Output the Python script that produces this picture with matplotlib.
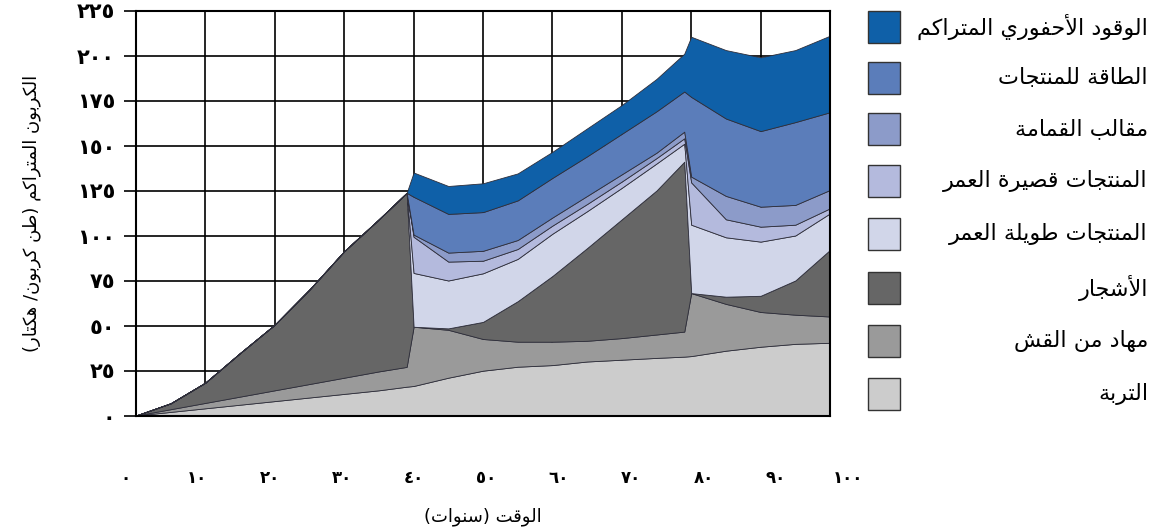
import matplotlib
matplotlib.use("Agg")
import matplotlib.pyplot as plt
from matplotlib.patches import Rectangle


# years since planting (harvests between 39-40 and 79-80)
years = [0, 5, 10, 15, 20, 25, 30, 35, 39, 40, 45, 50, 55, 60, 65, 70, 75, 79, 80, 85, 90, 95, 100]

# carbon per pool (t C / ha), bottom to top of the stack
soil        = [0, 2, 4, 6, 8, 10, 12, 14, 16, 16.4, 21, 24.9, 27.1, 28, 30, 31, 32, 32.7, 33, 36, 38.2, 39.8, 40.4]
mulch       = [0, 1.5, 3, 4.5, 6, 7.5, 9, 10.5, 11, 32.9, 26.6, 17.6, 13.9, 13, 11.5, 12, 13, 13.9, 35, 26, 19.3, 16.2, 14.6]
trees       = [0, 3.3, 11.3, 24.2, 36.5, 52.5, 70.3, 84.5, 96.7, 0, 0.8, 9.5, 22.5, 36.5, 51.5, 66, 80, 94.4, 0, 4, 9, 19, 37]
long_lived  = [0, 0, 0, 0, 0, 0, 0, 0, 0, 29.9, 26.6, 27, 23.5, 23.5, 20.5, 17.5, 15, 10, 38, 33, 30.1, 25, 20.3]
short_lived = [0, 0, 0, 0, 0, 0, 0, 0, 0, 20.1, 10.5, 7, 5.5, 4.5, 4, 3.5, 3, 3, 23.5, 10, 8.3, 6, 2.8]
landfill    = [0, 0, 0, 0, 0, 0, 0, 0, 0, 1.2, 5, 5.5, 5, 4.5, 4.5, 4, 3, 3.7, 3.2, 13, 11.1, 11, 10.2]
energy      = [0, 0, 0, 0, 0, 0, 0, 0, 0, 21, 21.5, 21.5, 22, 22, 22, 22.5, 23, 22.3, 44.3, 43, 42, 46, 43.2]
fossil      = [0, 0, 0, 0, 0, 0, 0, 0, 0, 13.5, 15.5, 16, 15, 14.5, 15.5, 16, 18, 21, 33.4, 38, 41, 40, 42.5]

labels = [
    "التربة",
    "مهاد من القش",
    "الأشجار",
    "المنتجات طويلة العمر",
    "المنتجات قصيرة العمر",
    "مقالب القمامة",
    "الطاقة للمنتجات",
    "الوقود الأحفوري المتراكم",
]
colors = ["#cccccc", "#9a9a9a", "#666666", "#d1d6e9", "#b4badd", "#8c9bc9", "#5b7dba", "#0f60a8"]

x_ticks = [0, 10, 20, 30, 40, 50, 60, 70, 80, 90, 100]
y_ticks = [0, 25, 50, 75, 100, 125, 150, 175, 200, 225]

x_title = "الوقت (سنوات)"
y_title = "الكربون المتراكم (طن كربون/ هكتار)"


# --- minimal Arabic shaping (matplotlib has no RTL / joining support) ---
AR_FORMS = {
    "\u0627": (0xFE8D, 0xFE8E, None, None),
    "\u0623": (0xFE83, 0xFE84, None, None),
    "\u0628": (0xFE8F, 0xFE90, 0xFE91, 0xFE92),
    "\u0629": (0xFE93, 0xFE94, None, None),
    "\u062A": (0xFE95, 0xFE96, 0xFE97, 0xFE98),
    "\u062C": (0xFE9D, 0xFE9E, 0xFE9F, 0xFEA0),
    "\u062D": (0xFEA1, 0xFEA2, 0xFEA3, 0xFEA4),
    "\u062F": (0xFEA9, 0xFEAA, None, None),
    "\u0631": (0xFEAD, 0xFEAE, None, None),
    "\u0633": (0xFEB1, 0xFEB2, 0xFEB3, 0xFEB4),
    "\u0634": (0xFEB5, 0xFEB6, 0xFEB7, 0xFEB8),
    "\u0635": (0xFEB9, 0xFEBA, 0xFEBB, 0xFEBC),
    "\u0637": (0xFEC1, 0xFEC2, 0xFEC3, 0xFEC4),
    "\u0639": (0xFEC9, 0xFECA, 0xFECB, 0xFECC),
    "\u0641": (0xFED1, 0xFED2, 0xFED3, 0xFED4),
    "\u0642": (0xFED5, 0xFED6, 0xFED7, 0xFED8),
    "\u0643": (0xFED9, 0xFEDA, 0xFEDB, 0xFEDC),
    "\u0644": (0xFEDD, 0xFEDE, 0xFEDF, 0xFEE0),
    "\u0645": (0xFEE1, 0xFEE2, 0xFEE3, 0xFEE4),
    "\u0646": (0xFEE5, 0xFEE6, 0xFEE7, 0xFEE8),
    "\u0647": (0xFEE9, 0xFEEA, 0xFEEB, 0xFEEC),
    "\u0648": (0xFEED, 0xFEEE, None, None),
    "\u064A": (0xFEF1, 0xFEF2, 0xFEF3, 0xFEF4),
}
LAM_ALEF = {"\u0627": (0xFEFB, 0xFEFC), "\u0623": (0xFEF7, 0xFEF8)}


def ar(text):
    out = []
    prev_joins = False
    i = 0
    while i < len(text):
        c = text[i]
        nxt = text[i + 1] if i + 1 < len(text) else ""
        if c not in AR_FORMS:
            out.append(c)
            prev_joins = False
            i += 1
            continue
        if c == "\u0644" and nxt in LAM_ALEF:
            iso, fin = LAM_ALEF[nxt]
            out.append(chr(fin if prev_joins else iso))
            prev_joins = False
            i += 2
            continue
        iso, fin, ini, med = AR_FORMS[c]
        next_join = ini is not None and nxt in AR_FORMS
        if prev_joins and next_join:
            g = med
        elif prev_joins:
            g = fin
        elif next_join:
            g = ini
        else:
            g = iso
        out.append(chr(g))
        prev_joins = ini is not None
        i += 1
    vis = "".join(reversed(out))
    return vis.translate(str.maketrans("()", ")("))


def ar_digits(n):
    return str(n).translate(str.maketrans("0123456789", "٠١٢٣٤٥٦٧٨٩"))


plt.rcParams["font.family"] = ["DejaVu Sans"]

W, H = 1157, 531
fig = plt.figure(figsize=(W / 100, H / 100), dpi=100)

# main plot area
ax = fig.add_axes([136 / W, 1 - 415.5 / H, 694 / W, 405 / H])
ax.stackplot(years, soil, mulch, trees, long_lived, short_lived, landfill, energy, fossil,
             colors=colors, edgecolor="#2e2e3a", linewidth=0.6, zorder=2)
ax.set_xlim(0, 100)
ax.set_ylim(0, 225)
ax.set_xticks(x_ticks)
ax.set_yticks(y_ticks)
ax.grid(True, color="black", linewidth=1.2, zorder=0)
ax.set_axisbelow(True)
for s in ax.spines.values():
    s.set_linewidth(1.5)
    s.set_zorder(3)
ax.tick_params(axis="x", length=0, labelbottom=False)
ax.tick_params(axis="y", direction="out", length=9, width=1.2, pad=6)
ax.set_yticklabels([ar_digits(v) for v in y_ticks], fontsize=15, fontweight="bold")
ax.set_ylabel(ar(y_title), fontsize=13, labelpad=26)

# x tick labels sit well below the plot on a slightly wider scale
axx = fig.add_axes([125 / W, 1 - 469 / H, 723 / W, 0.001])
axx.set_xlim(0, 100)
axx.set_xticks(x_ticks)
axx.set_xticklabels([ar_digits(v) for v in x_ticks], fontsize=12, fontweight="bold")
axx.tick_params(axis="x", length=0, pad=0)
axx.set_yticks([])
for s in axx.spines.values():
    s.set_visible(False)
axx.patch.set_alpha(0)
fig.text(483 / W, 1 - 517 / H, ar(x_title), fontsize=13, ha="center", va="center")

# legend, drawn by hand so the Arabic text can be right aligned
axl = fig.add_axes([0, 0, 1, 1], facecolor="none")
axl.set_xlim(0, W)
axl.set_ylim(H, 0)
axl.axis("off")
leg_y = [394, 341, 288, 234, 181, 129, 78, 27]
for lab, col, yc in zip(labels, colors, leg_y):
    axl.add_patch(Rectangle((868, yc - 16), 32, 32, facecolor=col, edgecolor="#333333", linewidth=1.0))
    axl.text(1148, yc, ar(lab), fontsize=16, ha="right", va="center")

fig.savefig("out.png", dpi=100)
